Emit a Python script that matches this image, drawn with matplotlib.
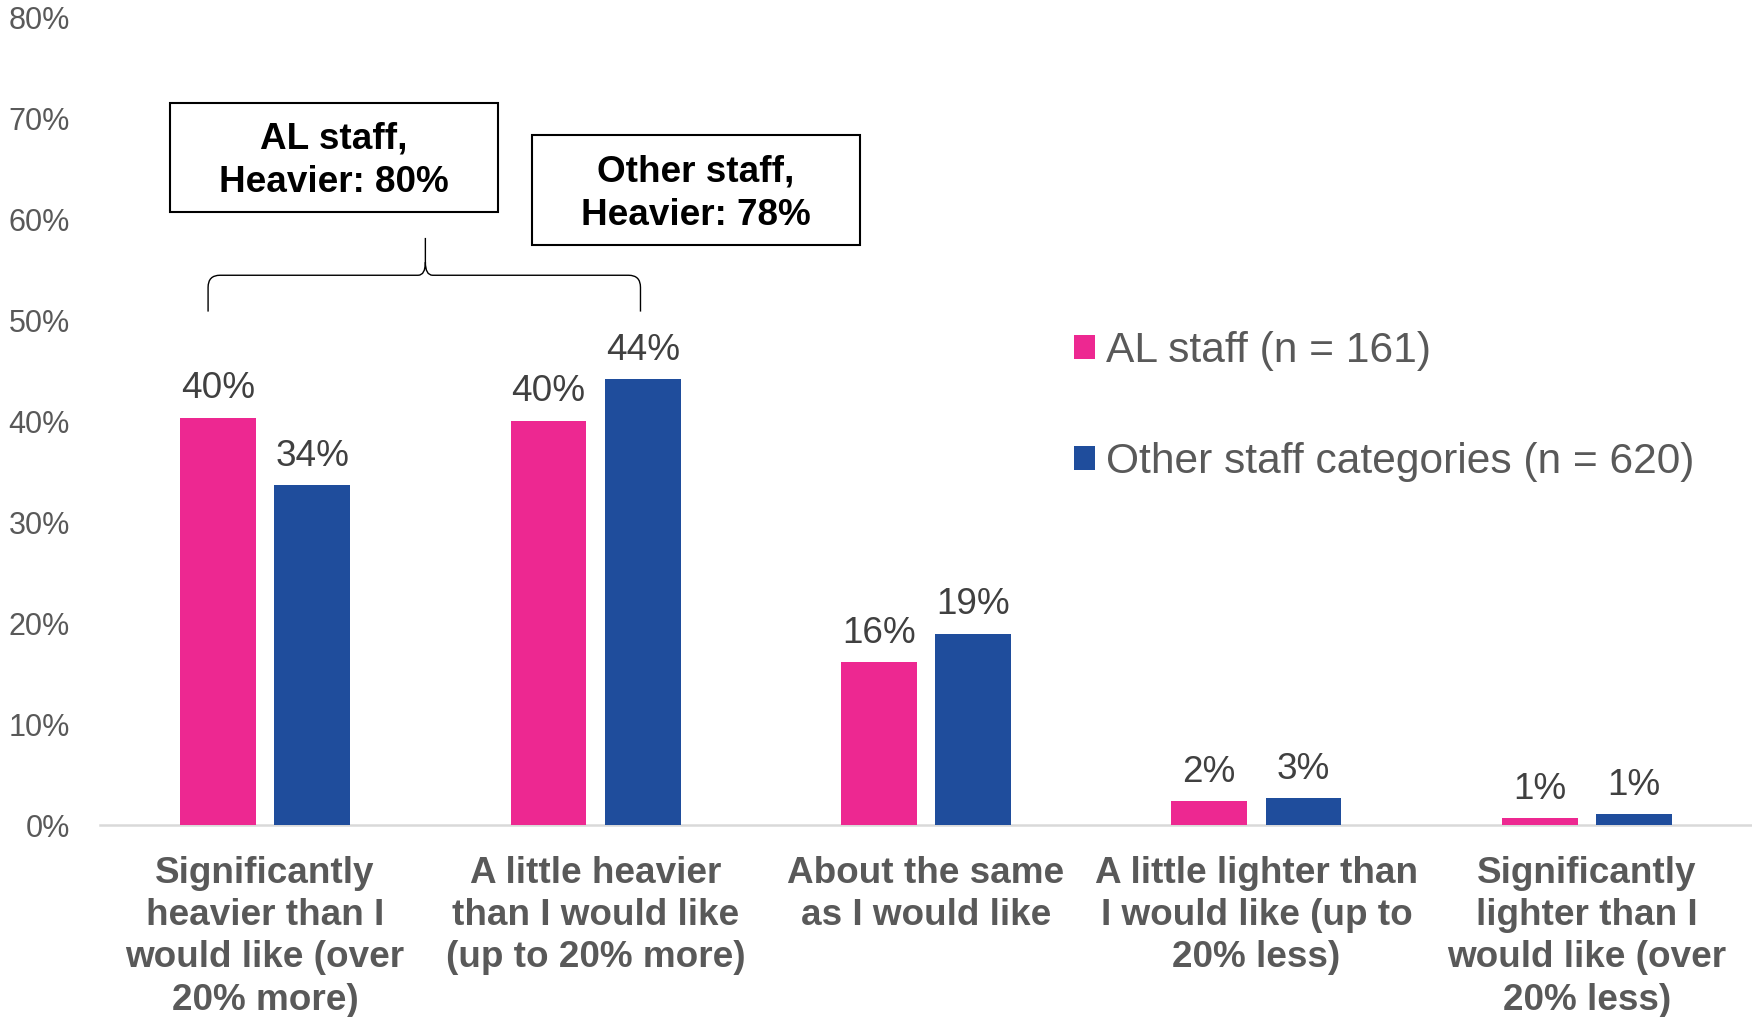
import matplotlib
matplotlib.use("Agg")
import matplotlib.pyplot as plt
from matplotlib.patches import Rectangle, PathPatch
from matplotlib.path import Path
import numpy as np

plt.rcParams["font.family"] = ["Liberation Sans", "DejaVu Sans"]

# Survey results: perceived workload compared with what respondents would like
categories = [
    "Significantly\nheavier than I\nwould like (over\n20% more)",
    "A little heavier\nthan I would like\n(up to 20% more)",
    "About the same\nas I would like",
    "A little lighter than\nI would like (up to\n20% less)",
    "Significantly\nlighter than I\nwould like (over\n20% less)",
]
al_staff = [40.4, 40.1, 16.2, 2.4, 0.7]
other_staff = [33.7, 44.2, 19.0, 2.7, 1.1]
series_names = ["AL staff (n = 161)", "Other staff categories (n = 620)"]
y_ticks = [0, 10, 20, 30, 40, 50, 60, 70, 80]
summary_al = "AL staff,\nHeavier: 80%"
summary_other = "Other staff,\nHeavier: 78%"

PINK = "#ED2891"
BLUE = "#1F4D9C"
GREY_TXT = "#595959"
DARK_TXT = "#404040"

fig = plt.figure(figsize=(17.52, 10.17), dpi=100)
ax = fig.add_axes([0.05702, 0.1885, 0.9430, 0.7939])

x = np.arange(len(categories))
bw = 0.229
off = 0.1427
b1 = ax.bar(x - off, al_staff, width=bw, color=PINK, label=series_names[0], zorder=2)
b2 = ax.bar(x + off, other_staff, width=bw, color=BLUE, label=series_names[1], zorder=2)

# value labels above the bars
for bars, vals in ((b1, al_staff), (b2, other_staff)):
    for rect, v in zip(bars, vals):
        ax.annotate(f"{v:.0f}%", (rect.get_x() + rect.get_width() / 2, v),
                    xytext=(0, 8), textcoords="offset points",
                    ha="center", va="bottom", fontsize=26.6, color=DARK_TXT)

ax.set_xlim(-0.5, 4.5)
ax.set_ylim(0, 80)
ax.set_yticks(y_ticks)
ax.set_yticklabels([f"{t}%" for t in y_ticks])
ax.set_xticks(x)
ax.set_xticklabels(categories, fontsize=26.6, fontweight="bold", color=GREY_TXT,
                   linespacing=1.27)
ax.tick_params(axis="y", length=0, pad=21.5, labelsize=22, labelcolor=GREY_TXT)
ax.tick_params(axis="x", length=0, pad=22)
for s in ax.spines.values():
    s.set_visible(False)
ax.axhline(0, color="#D9D9D9", linewidth=1.8, zorder=1, clip_on=False)

# summary boxes
def summary_box(x0, x1, y0, y1, text):
    ax.add_patch(Rectangle((x0, y0), x1 - x0, y1 - y0, facecolor="white",
                           edgecolor="black", linewidth=1.5, clip_on=False, zorder=3))
    ax.text((x0 + x1) / 2, (y0 + y1) / 2 - 0.35, text, ha="center", va="center",
            fontsize=26.6, fontweight="bold", color="black", linespacing=1.33,
            zorder=4)

summary_box(-0.2877, 0.704, 60.8, 71.6, summary_al)
summary_box(0.809, 1.799, 57.5, 68.4, summary_other)

# curly brace spanning the two "heavier" categories
L, R, T = -0.1726, 1.136, 0.485
y_end, y_bar, y_tip = 50.9, 54.5, 58.2
rx, ry = 0.036, 1.2
tx, ty = 0.022, 1.3
verts = [
    (L, y_end), (L, y_bar - ry), (L, y_bar), (L + rx, y_bar),
    (T - tx, y_bar), (T, y_bar), (T, y_bar + ty), (T, y_tip),
    (T, y_bar + ty), (T, y_bar), (T + tx, y_bar),
    (R - rx, y_bar), (R, y_bar), (R, y_bar - ry), (R, y_end),
]
codes = [
    Path.MOVETO, Path.LINETO, Path.CURVE3, Path.CURVE3,
    Path.LINETO, Path.CURVE3, Path.CURVE3, Path.LINETO,
    Path.MOVETO, Path.CURVE3, Path.CURVE3,
    Path.LINETO, Path.CURVE3, Path.CURVE3, Path.LINETO,
]
ax.add_patch(PathPatch(Path(verts, codes), facecolor="none", edgecolor="black",
                       linewidth=1.0, clip_on=False, zorder=3))

leg = fig.legend(handles=[b1, b2], labels=series_names, loc="upper left",
                 bbox_to_anchor=(0.6128, 0.6741), frameon=False, fontsize=30.6,
                 handlelength=0.5, handleheight=0.5, handletextpad=0.26,
                 labelspacing=1.67, borderpad=0, borderaxespad=0)
for t in leg.get_texts():
    t.set_color(GREY_TXT)

fig.savefig("out.png", dpi=100, facecolor="white")
